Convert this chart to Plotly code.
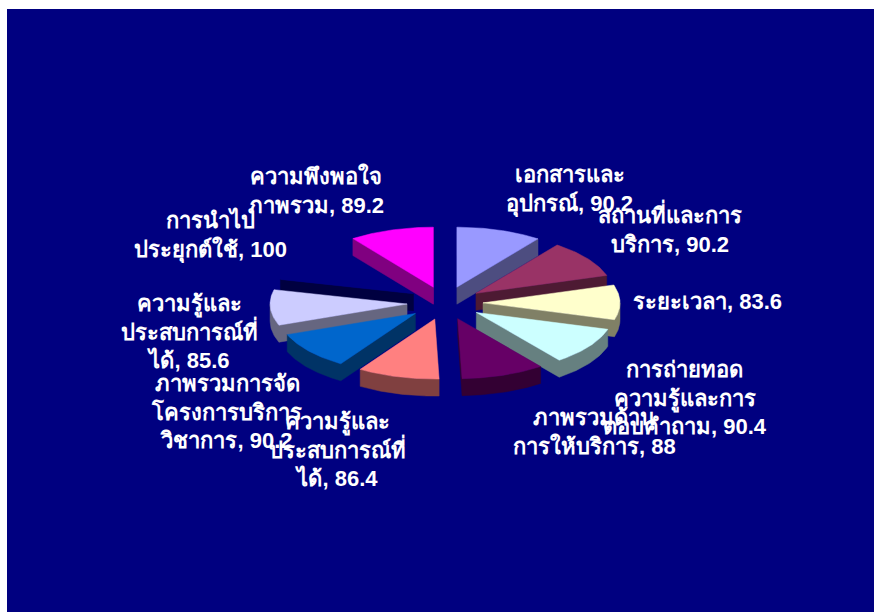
import numpy as np
import plotly.graph_objects as go

labels = [
    "เอกสารและ<br>อุปกรณ์, 90.2",
    "สถานที่และการ<br>บริการ, 90.2",
    "ระยะเวลา, 83.6",
    "การถ่ายทอด<br>ความรู้และการ<br>ตอบคำถาม, 90.4",
    "ภาพรวมด้าน<br>การให้บริการ, 88",
    "ความรู้และ<br>ประสบการณ์ที่<br>ได้, 86.4",
    "ภาพรวมการจัด<br>โครงการบริการ<br>วิชาการ, 90.2",
    "ความรู้และ<br>ประสบการณ์ที่<br>ได้, 85.6",
    "การนำไป<br>ประยุกต์ใช้, 100",
    "ความพึงพอใจ<br>ภาพรวม, 89.2",
]
values = [90.2, 90.2, 83.6, 90.4, 88, 86.4, 90.2, 85.6, 100, 89.2]
top_colors = ["#9999FF", "#993366", "#FFFFCC", "#CCFFFF", "#660066",
              "#FF8080", "#0066CC", "#CCCCFF", "#000080", "#FF00FF"]
wall_colors = ["#4D4D80", "#4D1A33", "#808066", "#668080", "#330033",
               "#804040", "#003366", "#666680", "#000040", "#800080"]
label_x = [569, 670, 707, 685, 594, 337, 226, 189, 210, 316]
label_y = [190, 228, 301, 398, 432, 450, 412, 332, 235, 190]

CX, CY, RX, RY, EXPLODE, DEPTH = 445, 303, 137, 60, 38, 17
NAVY = "#000080"

shares = np.array(values, dtype=float) / sum(values) * 2 * np.pi
ends = np.cumsum(shares)
starts = ends - shares
tilt = RY / RX

slices = []
for i in range(len(values)):
    mid = (starts[i] + ends[i]) / 2
    ax = CX + EXPLODE * np.sin(mid)
    ay = CY - EXPLODE * tilt * np.cos(mid)
    t = np.linspace(starts[i], ends[i], 40)
    px = np.r_[ax, ax + RX * np.sin(t), ax]
    py = np.r_[ay, ay - RY * np.cos(t), ay]
    slices.append((ay, i, px, py))
slices.sort(key=lambda s: s[0])


def visible_wall(px, py, depth):
    """Outline strips of the walls that face the viewer (edges running leftward on screen)."""
    wx, wy = [], []
    run = []
    for k in range(len(px) - 1):
        if px[k + 1] < px[k]:
            if not run:
                run = [k]
            run.append(k + 1)
        elif run:
            wx += list(px[run]) + list(px[run][::-1]) + [px[run[0]], None]
            wy += list(py[run]) + list(py[run][::-1] + depth) + [py[run[0]], None]
            run = []
    if run:
        wx += list(px[run]) + list(px[run][::-1]) + [px[run[0]], None]
        wy += list(py[run]) + list(py[run][::-1] + depth) + [py[run[0]], None]
    return wx, wy


fig = go.Figure()
for ay, i, px, py in slices:
    wx, wy = visible_wall(px, py, DEPTH)
    fig.add_trace(go.Scatter(x=wx, y=wy, mode="lines", fill="toself",
                             fillcolor=wall_colors[i],
                             line=dict(color=wall_colors[i], width=0.5),
                             hoverinfo="skip", showlegend=False))
    fig.add_trace(go.Scatter(x=px, y=py, mode="lines", fill="toself",
                             fillcolor=top_colors[i],
                             line=dict(color=top_colors[i], width=0.5),
                             hoverinfo="skip", showlegend=False))

for text, x, y in zip(labels, label_x, label_y):
    fig.add_annotation(x=x, y=y, xref="x", yref="y", text=text, showarrow=False,
                       align="center", xanchor="center", yanchor="middle",
                       font=dict(family="Liberation Sans, Arial, sans-serif",
                                 size=22, color="white", weight="bold"))

fig.update_xaxes(range=[7, 874], visible=False, fixedrange=True)
fig.update_yaxes(range=[612, 9], visible=False, fixedrange=True)
fig.update_layout(width=867, height=603, autosize=False,
                  margin=dict(l=0, r=0, t=0, b=0, pad=0),
                  paper_bgcolor=NAVY, plot_bgcolor=NAVY, showlegend=False)
fig.write_html("out.html", config=dict(displayModeBar=False),
               post_script="document.documentElement.style.overflow='hidden';"
                           "document.body.style.margin='9px 0 0 7px';")
